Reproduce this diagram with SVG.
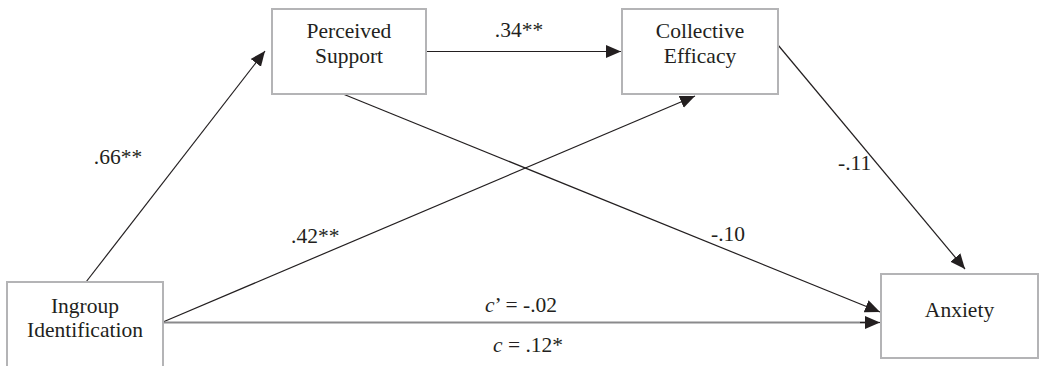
<svg xmlns="http://www.w3.org/2000/svg" width="1040" height="366" viewBox="0 0 1040 366">
<style>
.box{fill:#fff;stroke:#b4b4b6;stroke-width:2}
.t{font-family:'Liberation Serif','Times New Roman','DejaVu Serif',serif;font-size:21.5px;fill:#231f20}
.c{text-anchor:middle}
.ln{stroke:#231f20;stroke-width:1.2;fill:none}
.gl{stroke:#8a8a8c;stroke-width:2.2;fill:none}
</style>
<defs>
<marker id="ah" markerUnits="userSpaceOnUse" markerWidth="16" markerHeight="14" refX="15" refY="7" orient="auto" viewBox="0 0 16 14">
<path d="M0,0.5 L15,7 L0,13.5 z" fill="#231f20"/>
</marker>
</defs>
<rect width="1040" height="366" fill="#fff"/>
<g id="connectors" font-family="Liberation Serif, Times New Roman, serif">
<line class="ln" x1="86" y1="282" x2="265" y2="51" marker-end="url(#ah)"/>
<line class="ln" x1="426" y1="51.5" x2="621" y2="51.5" marker-end="url(#ah)"/>
<line class="ln" x1="163" y1="322" x2="695" y2="96" marker-end="url(#ah)"/>
<line class="ln" x1="343" y1="94" x2="880" y2="312" marker-end="url(#ah)"/>
<line class="ln" x1="778" y1="45" x2="965" y2="269" marker-end="url(#ah)"/>
<line class="gl" x1="163" y1="322.5" x2="865" y2="322.5"/>
<line class="ln" x1="860" y1="322.5" x2="880" y2="322.5" marker-end="url(#ah)"/>
<text class="t c" x="118" y="164">.66**</text>
<text class="t c" x="519" y="37">.34**</text>
<text class="t" x="291" y="243">.42**</text>
<text class="t" x="711" y="241">-.10</text>
<text class="t" x="838" y="170">-.11</text>
<text class="t c" x="521" y="312"><tspan font-style="italic">c</tspan>’ = -.02</text>
<text class="t c" x="528" y="352"><tspan font-style="italic">c</tspan> = .12*</text>
</g>
<g id="perceived-support" font-family="Liberation Serif, Times New Roman, serif">
<rect class="box" x="272" y="9" width="154" height="85"/>
<text class="t c" x="349" y="38">Perceived</text>
<text class="t c" x="349" y="63">Support</text>
</g>
<g id="collective-efficacy" font-family="Liberation Serif, Times New Roman, serif">
<rect class="box" x="622" y="9" width="156" height="85"/>
<text class="t c" x="700" y="38">Collective</text>
<text class="t c" x="700" y="63">Efficacy</text>
</g>
<g id="ingroup-identification" font-family="Liberation Serif, Times New Roman, serif">
<rect class="box" x="7" y="282" width="156" height="100"/>
<text class="t c" x="85" y="313">Ingroup</text>
<text class="t c" x="85" y="337">Identification</text>
</g>
<g id="anxiety" font-family="Liberation Serif, Times New Roman, serif">
<rect class="box" x="881" y="274" width="157" height="84"/>
<text class="t c" x="959.5" y="317">Anxiety</text>
</g>
</svg>
